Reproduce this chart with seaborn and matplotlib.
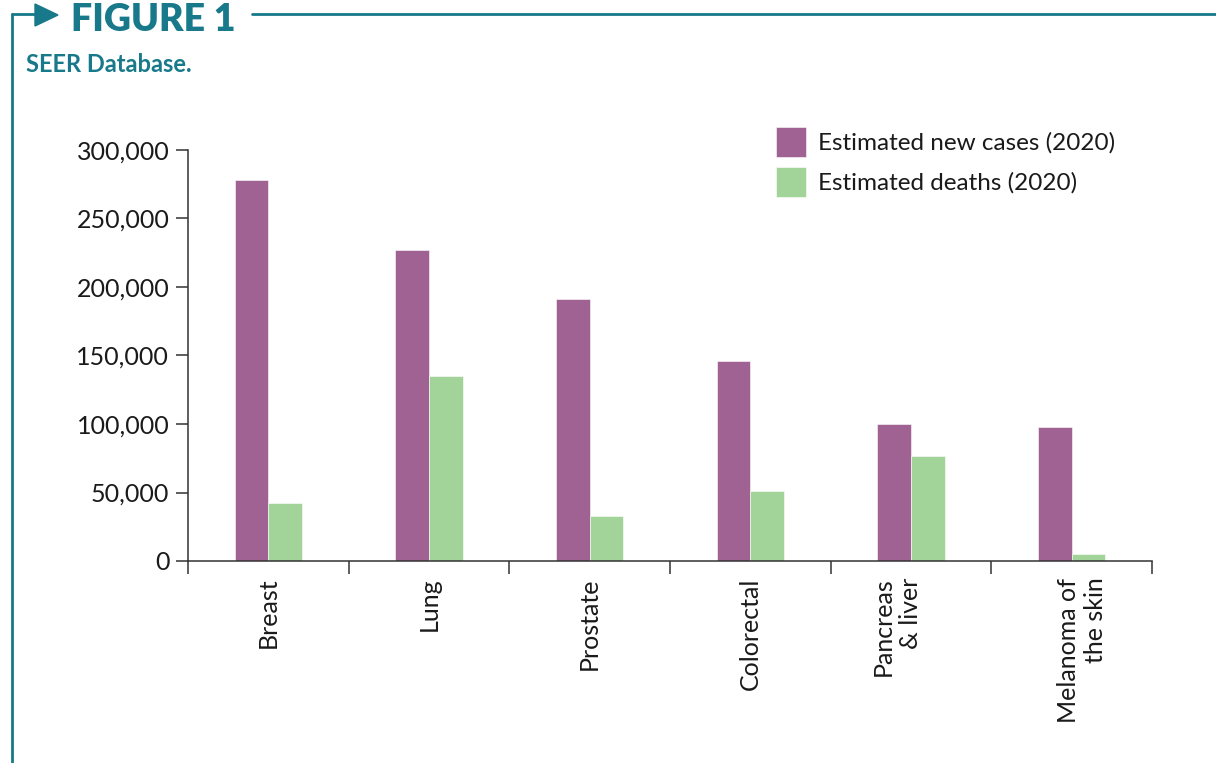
import matplotlib
matplotlib.use("Agg")
import matplotlib.pyplot as plt
from matplotlib.lines import Line2D
from matplotlib.patches import Polygon
from matplotlib.ticker import FuncFormatter, FixedLocator
import matplotlib.transforms as mtransforms
import seaborn as sns
import pandas as pd

categories = ["Breast", "Lung", "Prostate", "Colorectal", "Pancreas\n& liver", "Melanoma of\nthe skin"]
new_cases = [278000, 227000, 191000, 146000, 100000, 97500]
deaths = [42000, 135000, 33000, 51000, 76500, 5000]
series_names = ["Estimated new cases (2020)", "Estimated deaths (2020)"]
y_ticks = [0, 50000, 100000, 150000, 200000, 250000, 300000]

df = pd.DataFrame({
    "category": categories * 2,
    "value": new_cases + deaths,
    "series": [series_names[0]] * len(categories) + [series_names[1]] * len(categories),
})

sns.set_theme(style="white")
plt.rcParams["font.family"] = ["Lato", "DejaVu Sans"]

TEAL = "#17798A"
PURPLE = "#A06293"
GREEN = "#A2D398"
AX = "#333333"
TXT = "#1a1a1a"

fig = plt.figure(figsize=(12.16, 7.63), dpi=100)
ax = fig.add_axes([188 / 1216, 1 - 561 / 763, (1152 - 188) / 1216, (561 - 150) / 763])

sns.barplot(data=df, x="category", y="value", hue="series", order=categories,
            hue_order=series_names, palette=[PURPLE, GREEN], width=0.42,
            ax=ax, edgecolor="white", linewidth=0.4, saturation=1)

ax.set_ylim(0, 300000)
ax.set_xlim(-0.5, len(categories) - 0.5)
ax.set_yticks(y_ticks)
ax.yaxis.set_major_formatter(FuncFormatter(lambda v, p: f"{int(v):,}"))
ax.set_xlabel("")
ax.set_ylabel("")

for s in ["top", "right"]:
    ax.spines[s].set_visible(False)
for s in ["left", "bottom"]:
    ax.spines[s].set_color(AX)
    ax.spines[s].set_linewidth(1.1)

ax.tick_params(axis="y", which="major", direction="out", length=8.5, width=1.1,
               color=AX, labelsize=18, labelcolor=TXT, pad=5, left=True)
ax.xaxis.set_minor_locator(FixedLocator([i - 0.5 for i in range(len(categories) + 1)]))
ax.tick_params(axis="x", which="minor", direction="out", length=9.5, width=1.1, color=AX, bottom=True)
ax.tick_params(axis="x", which="major", length=0, pad=12)
label_dx_px = [0, 0, 0, 0, -14, 10]
for lab, dx in zip(ax.get_xticklabels(), label_dx_px):
    lab.set_rotation(90)
    lab.set_fontsize(18)
    lab.set_color(TXT)
    lab.set_ha("center")
    lab.set_va("top")
    lab.set_multialignment("right")
    if dx:
        lab.set_transform(lab.get_transform() +
                          mtransforms.ScaledTranslation(dx / 100, 0, fig.dpi_scale_trans))

leg = ax.legend(loc="upper right", bbox_to_anchor=((1115 - 188) / 964, (561 - 127) / 411),
                frameon=False, fontsize=17.5, handlelength=1.23, handleheight=1.52,
                handletextpad=0.5, labelspacing=0.4, borderaxespad=0, borderpad=0)
for t in leg.get_texts():
    t.set_color(TXT)

# Figure frame decoration
W, H = 1216, 763
def fx(x): return x / W
def fy(y): return 1 - y / H

fig.add_artist(Line2D([fx(12), fx(12)], [fy(14), fy(763)], color=TEAL, lw=2.0))
fig.add_artist(Line2D([fx(12), fx(40)], [fy(14), fy(14)], color=TEAL, lw=2.0))
fig.add_artist(Polygon([[fx(35), fy(4)], [fx(58), fy(15)], [fx(35), fy(26)]],
                       closed=True, color=TEAL, transform=fig.transFigure))
fig.add_artist(Line2D([fx(252), fx(1216)], [fy(14), fy(14)], color=TEAL, lw=2.0))
fig.text(fx(71), fy(31), "FIGURE 1", color=TEAL, fontsize=27, fontweight="heavy",
         ha="left", va="baseline")
fig.text(fx(26), fy(65), "SEER Database.", color=TEAL, fontsize=17, fontweight="bold",
         ha="left", va="center")

fig.savefig("out.png", dpi=100, facecolor="white")
